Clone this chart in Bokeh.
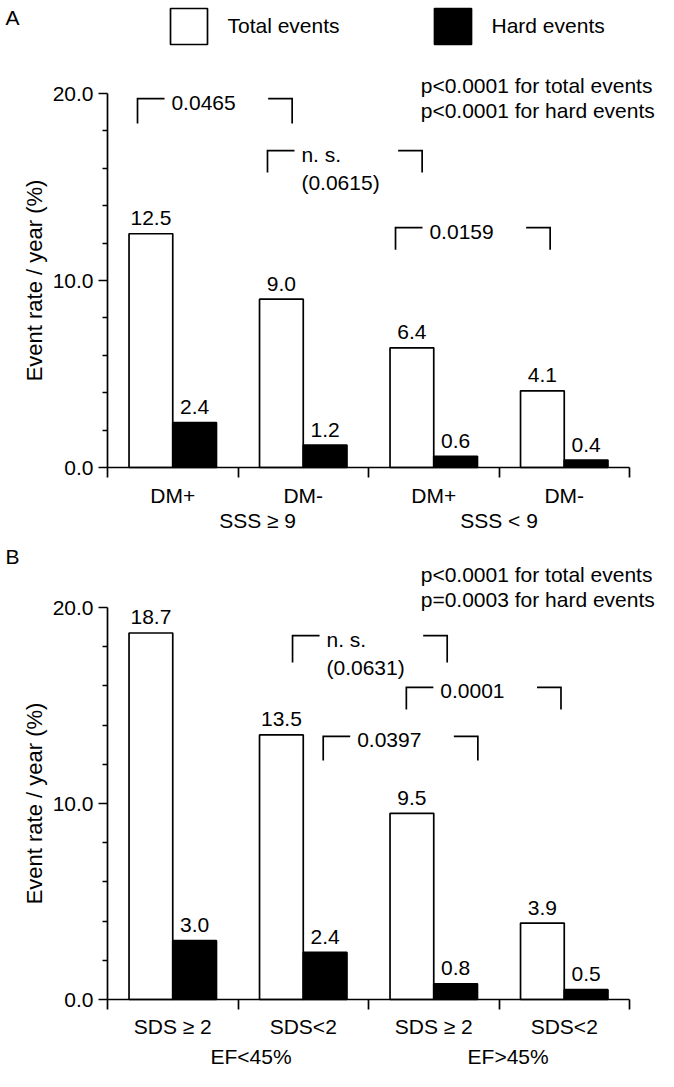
import numpy as np
from bokeh.plotting import figure
from bokeh.layouts import column
from bokeh.models import Range1d, LinearAxis, FixedTicker, PrintfTickFormatter
from bokeh.core.properties import value
from bokeh.embed import file_html
from bokeh.resources import INLINE

# ---------------- data ----------------
cats_a = ["DM+", "DM-", "DM+", "DM-"]
groups_a = ["SSS ≥ 9", "SSS < 9"]
total_a = [12.5, 9.0, 6.4, 4.1]
hard_a = [2.4, 1.2, 0.6, 0.4]
overall_a = ["p<0.0001 for total events", "p<0.0001 for hard events"]
cmp_text_a = ["0.0465", "n. s.", "0.0159"]
cmp_sub_a = ["", "(0.0615)", ""]

cats_b = ["SDS ≥ 2", "SDS<2", "SDS ≥ 2", "SDS<2"]
groups_b = ["EF<45%", "EF>45%"]
total_b = [18.7, 13.5, 9.5, 3.9]
hard_b = [3.0, 2.4, 0.8, 0.5]
overall_b = ["p<0.0001 for total events", "p=0.0003 for hard events"]
cmp_text_b = ["n. s.", "0.0001", "0.0397"]
cmp_sub_b = ["(0.0631)", "", ""]

series_names = ["Total events", "Hard events"]
y_major = [0, 10, 20]
y_minor = [2, 4, 6, 8, 12, 14, 16, 18]

# ------------- annotation placement (data units) -------------
brk_a = dict(xl=[0.23, 1.226, 2.207], level=[19.73, 16.95, 12.83], drop=[1.34, 1.18, 1.18])
brk_b = dict(xl=[1.418, 2.29, 1.653], level=[18.57, 15.92, 13.42], drop=[1.38, 1.12, 1.23])
group_pos_a = [1.15, 3.0]
group_pos_b = [1.10, 3.07]

FONT = "Liberation Sans"
FS = "21px"
FS_TITLE = "22px"
LW = 1.7
BAR_W = 0.335
SPAN = 1.185
STUB_L = 0.207
STUB_R = 0.184
W = 658
X0 = 107          # pixel position of x=0 inside the figure
XSCALE = 130.5    # pixels per category


def txt(p, x, y, t, align="left", yoff=0):
    p.text(x=x, y=y, text=t, text_align=align, text_baseline="middle", y_offset=yoff,
           text_font=value(FONT), text_font_size=value(FS), text_color="black")


def make_panel(letter, letter_y, cats, groups, group_pos, total, hard, overall, overall_y,
               cmp_text, cmp_sub, brk, height, zero_px, yscale, cat_standoff,
               group_standoff, legend=False):
    p = figure(width=W, height=height, output_backend="svg", toolbar_location=None,
               x_range=Range1d(-X0 / XSCALE, (W - X0) / XSCALE),
               y_range=Range1d(-(height - zero_px) / yscale, zero_px / yscale),
               x_axis_type=None, min_border=0)
    p.outline_line_color = None
    p.grid.visible = False
    p.background_fill_color = "white"
    p.border_fill_color = "white"

    centers = np.arange(len(cats)) + 0.5
    p.vbar(x=centers - BAR_W / 2, top=total, bottom=0, width=BAR_W,
           fill_color="white", line_color="black", line_width=LW)
    p.vbar(x=centers + BAR_W / 2, top=hard, bottom=0, width=BAR_W,
           fill_color="black", line_color="black", line_width=LW)

    # value labels above the bars
    txt(p, list(centers - BAR_W / 2) + list(centers + BAR_W / 2),
        list(total) + list(hard),
        [f"{v:.1f}" for v in list(total) + list(hard)], align="center", yoff=-15.5)

    # comparison brackets
    xs, ys = [], []
    for xl, lv, dr in zip(brk["xl"], brk["level"], brk["drop"]):
        xr = xl + SPAN
        xs.append([xl, xl, xl + STUB_L]); ys.append([lv - dr, lv, lv])
        xs.append([xr - STUB_R, xr, xr]); ys.append([lv, lv, lv - dr])
    p.multi_line(xs, ys, line_color="black", line_width=LW, line_join="miter")
    tx = [xl + 0.26 for xl in brk["xl"]]
    txt(p, tx, brk["level"], cmp_text, yoff=4)
    txt(p, tx, brk["level"], cmp_sub, yoff=32)

    # panel letter and overall p-values
    txt(p, [-0.7816], [letter_y], [letter])
    txt(p, [2.40] * len(overall), overall_y, overall)

    # legend (swatches + labels)
    if legend:
        p.quad(left=[0.4828, 2.5057], right=[0.7663, 2.7893],
               top=[24.545, 24.545], bottom=[22.62, 22.62],
               fill_color=["white", "black"], line_color="black", line_width=LW)
        txt(p, [0.9195, 2.9425], [23.61, 23.61], series_names)

    # y axis drawn at x = 0
    ya = p.yaxis[0]
    ya.fixed_location = 0
    ya.ticker = FixedTicker(ticks=y_major, minor_ticks=y_minor)
    ya.formatter = PrintfTickFormatter(format="%.1f")
    ya.bounds = (0, 20)
    ya.major_tick_out = 9
    ya.major_tick_in = 0
    ya.minor_tick_out = 5
    ya.minor_tick_in = 0
    ya.major_label_standoff = 5
    ya.axis_label = "Event rate / year (%)"
    ya.axis_label_standoff = 3
    ya.axis_label_text_font_style = "normal"
    ya.axis_line_color = "black"
    ya.axis_line_width = LW
    ya.major_tick_line_color = "black"
    ya.major_tick_line_width = LW
    ya.minor_tick_line_color = "black"
    ya.minor_tick_line_width = LW
    ya.major_label_text_font = FONT
    ya.major_label_text_font_size = FS
    ya.major_label_text_color = "black"
    ya.axis_label_text_font = FONT
    ya.axis_label_text_font_size = FS_TITLE
    ya.axis_label_text_color = "black"

    # x axis at y = 0: category names at centres, boundary ticks as minor ticks
    xa = LinearAxis(fixed_location=0,
                    ticker=FixedTicker(ticks=list(centers), minor_ticks=[0, 1, 2, 3, 4]),
                    bounds=(0, 4),
                    major_label_overrides={float(c): n for c, n in zip(centers, cats)},
                    major_tick_out=10, major_tick_in=0, minor_tick_out=10, minor_tick_in=0,
                    major_label_standoff=cat_standoff,
                    axis_line_color="black", axis_line_width=LW,
                    minor_tick_line_color="black", minor_tick_line_width=LW,
                    major_tick_line_color=None,
                    major_label_text_font=FONT, major_label_text_font_size=FS,
                    major_label_text_color="black")
    p.add_layout(xa, "below")
    ga = LinearAxis(fixed_location=0,
                    ticker=FixedTicker(ticks=group_pos, minor_ticks=[]),
                    major_label_overrides={float(g): n for g, n in zip(group_pos, groups)},
                    axis_line_color=None, major_tick_line_color=None,
                    minor_tick_line_color=None, major_tick_out=0, major_tick_in=0,
                    minor_tick_out=0, minor_tick_in=0,
                    major_label_standoff=group_standoff,
                    major_label_text_font=FONT, major_label_text_font_size=FS,
                    major_label_text_color="black")
    p.add_layout(ga, "below")
    return p


pA = make_panel("A", 24.064, cats_a, groups_a, group_pos_a, total_a, hard_a,
                overall_a, [20.43, 19.09], cmp_text_a, cmp_sub_a, brk_a,
                height=537, zero_px=467, yscale=18.7, cat_standoff=6,
                group_standoff=41, legend=True)
pB = make_panel("B", 22.60, cats_b, groups_b, group_pos_b, total_b, hard_b,
                overall_b, [21.68, 20.41], cmp_text_b, cmp_sub_b, brk_b,
                height=534, zero_px=462, yscale=19.6, cat_standoff=5,
                group_standoff=45)

layout = column(pA, pB)
open("out.html", "w").write(file_html(layout, INLINE))
